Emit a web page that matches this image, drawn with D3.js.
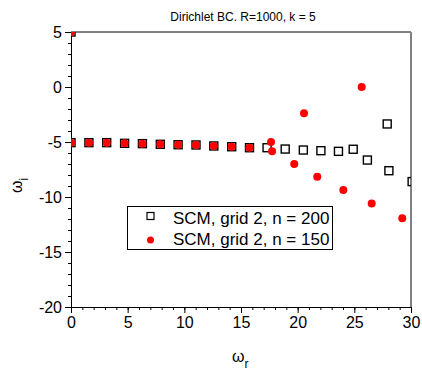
<!DOCTYPE html>
<html><head><meta charset="utf-8">
<script src="https://cdn.jsdelivr.net/npm/d3@7"></script>
<style>body{margin:0;background:#fff;}svg{display:block;font-family:"Liberation Sans",Arial,sans-serif;}</style>
</head><body>
<svg id="c" width="422" height="373"></svg>
<script>
const title = "Dirichlet BC. R=1000, k = 5";
const xTicks = [0, 5, 10, 15, 20, 25, 30];
const yTicks = [5, 0, -5, -10, -15, -20];
const seriesNames = ["SCM, grid 2, n = 200", "SCM, grid 2, n = 150"];
// n = 200 (open squares)
const sqX = [0, 0, 1.58, 3.15, 4.73, 6.3, 7.88, 9.45, 11.03, 12.6, 14.18, 15.75, 17.3, 18.9, 20.5, 22.05, 23.6, 24.9, 26.15, 27.9, 28.05, 30.1];
const sqY = [5, -5.06, -5.06, -5.06, -5.12, -5.15, -5.21, -5.25, -5.27, -5.36, -5.43, -5.52, -5.52, -5.64, -5.73, -5.79, -5.85, -5.66, -6.64, -3.36, -7.61, -8.6];
// n = 150 (red dots)
const rdX = [0, 0, 1.58, 3.15, 4.73, 6.3, 7.88, 9.45, 11.03, 12.6, 14.18, 15.75, 17.65, 17.74, 19.7, 20.56, 21.73, 24.03, 25.65, 26.53, 29.23];
const rdY = [5, -5.06, -5.06, -5.06, -5.12, -5.15, -5.21, -5.25, -5.27, -5.36, -5.43, -5.52, -5.0, -5.85, -7.0, -2.39, -8.15, -9.36, 0.0, -10.6, -11.94];

const svg = d3.select("#c");
const L = 71, R = 411, T = 32, B = 307;
const x = d3.scaleLinear().domain([0, 30]).range([L, R]);
const y = d3.scaleLinear().domain([-20, 5]).range([B, T]);
const fmt = d => String(d);

svg.append("defs").append("clipPath").attr("id", "clip")
  .append("rect").attr("x", L).attr("y", T).attr("width", R - L).attr("height", B - T);

// frame top/right
svg.append("line").attr("x1", L).attr("x2", R).attr("y1", T).attr("y2", T).attr("stroke", "#000").attr("stroke-width", 1);
svg.append("line").attr("x1", R).attr("x2", R).attr("y1", T).attr("y2", B).attr("stroke", "#808080").attr("stroke-width", 2);

// x axis
const gx = svg.append("g").attr("transform", `translate(0,${B})`);
gx.call(d3.axisBottom(x).tickValues(d3.range(0, 31, 1)).tickSize(3).tickFormat(""));
const gx2 = svg.append("g").attr("transform", `translate(0,${B})`);
gx2.call(d3.axisBottom(x).tickValues(xTicks).tickSize(6).tickPadding(4).tickFormat(fmt));
gx2.select(".domain").remove();
gx2.selectAll("text").attr("font-size", 16).attr("fill", "#000").attr("font-family", "Liberation Sans, Arial, sans-serif");

// y axis
const gy = svg.append("g").attr("transform", `translate(${L},0)`);
gy.call(d3.axisLeft(y).tickValues(d3.range(-20, 6, 1)).tickSize(3).tickFormat(""));
const gy2 = svg.append("g").attr("transform", `translate(${L},0)`);
gy2.call(d3.axisLeft(y).tickValues(yTicks).tickSize(6).tickPadding(3).tickFormat(fmt));
gy2.select(".domain").remove();
gy2.selectAll("text").attr("font-size", 16).attr("fill", "#000").attr("font-family", "Liberation Sans, Arial, sans-serif");
svg.selectAll(".tick line, .domain").attr("stroke", "#000");

// title
svg.append("text").attr("x", 243).attr("y", 21).attr("text-anchor", "middle").attr("font-size", 12).text(title);

// axis labels
const xl = svg.append("text").attr("x", 232).attr("y", 362).attr("font-size", 16);
xl.append("tspan").text("ω");
xl.append("tspan").attr("font-size", 12).attr("dy", 6).text("r");
const yl = svg.append("text").attr("transform", "translate(22,193) rotate(-90)").attr("font-size", 16);
yl.append("tspan").text("ω");
yl.append("tspan").attr("font-size", 12).attr("dy", 6).text("i");

// data
const plot = svg.append("g").attr("clip-path", "url(#clip)");
const s = 8;
plot.selectAll("rect.sq").data(d3.range(sqX.length)).join("rect").attr("class", "sq")
  .attr("x", i => x(sqX[i]) - s / 2).attr("y", i => y(sqY[i]) - s / 2)
  .attr("width", s).attr("height", s).attr("fill", "none").attr("stroke", "#000").attr("stroke-width", 1.4);
plot.selectAll("circle.rd").data(d3.range(rdX.length)).join("circle").attr("class", "rd")
  .attr("cx", i => x(rdX[i])).attr("cy", i => y(rdY[i])).attr("r", 4).attr("fill", "#ff0000");

// legend
const lg = svg.append("g");
lg.append("rect").attr("x", 127.5).attr("y", 206.5).attr("width", 205).attr("height", 43).attr("fill", "#fff").attr("stroke", "#000").attr("stroke-width", 1);
lg.append("rect").attr("x", 147).attr("y", 212.5).attr("width", 7).attr("height", 7).attr("fill", "none").attr("stroke", "#000").attr("stroke-width", 1.2);
lg.append("circle").attr("cx", 150.5).attr("cy", 240).attr("r", 3.5).attr("fill", "#ff0000");
lg.append("text").attr("x", 173).attr("y", 224).attr("font-size", 17).text(seriesNames[0]);
lg.append("text").attr("x", 173).attr("y", 245).attr("font-size", 17).text(seriesNames[1]);
</script>
</body></html>
